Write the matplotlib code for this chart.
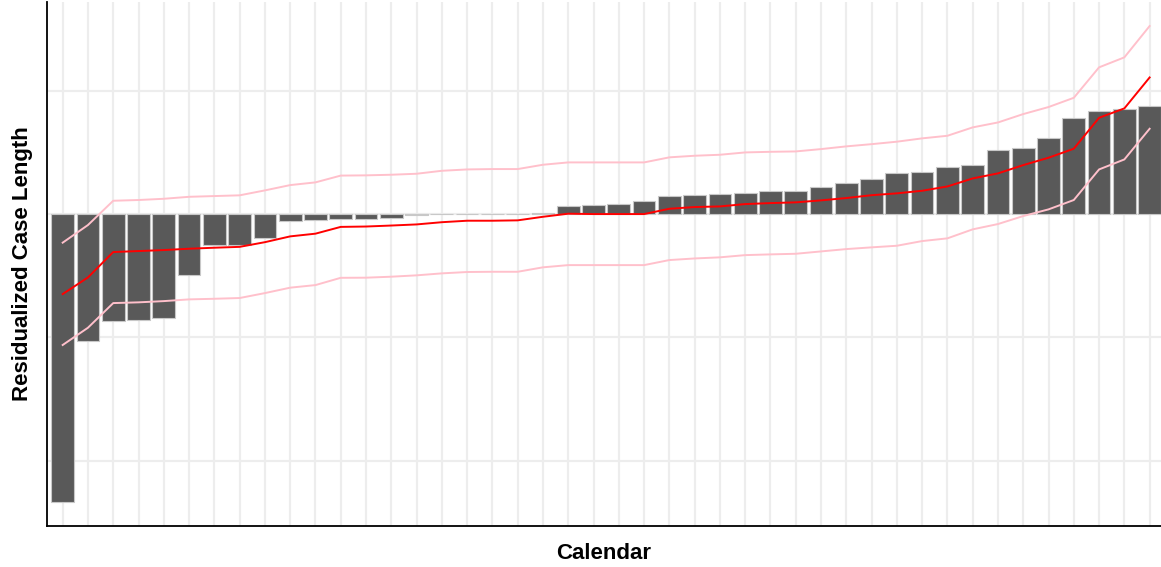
import numpy as np
import matplotlib
matplotlib.use("Agg")
import matplotlib.pyplot as plt

# ==========================================
# DATA
# ==========================================

# residualized case length per calendar, sorted ascending
residuals = [
    -2.338, -1.030, -0.865, -0.860, -0.846, -0.495, -0.251, -0.249, -0.197, -0.059,
    -0.051, -0.038, -0.038, -0.032, -0.008, -0.003, 0.000, 0.000, 0.000, 0.011,
    0.062, 0.070, 0.084, 0.105, 0.143, 0.154, 0.165, 0.170, 0.184, 0.184,
    0.222, 0.251, 0.287, 0.333, 0.341, 0.381, 0.397, 0.522, 0.538, 0.616,
    0.776, 0.833, 0.849, 0.873,
]

# expected value of each order statistic
expected = [
    -0.649, -0.514, -0.308, -0.300, -0.292, -0.281, -0.273, -0.266, -0.228, -0.181,
    -0.159, -0.104, -0.101, -0.093, -0.084, -0.066, -0.054, -0.054, -0.051, -0.022,
    0.003, 0.000, 0.000, 0.000, 0.043, 0.057, 0.062, 0.081, 0.089, 0.095,
    0.111, 0.130, 0.153, 0.168, 0.189, 0.224, 0.289, 0.330, 0.397, 0.457,
    0.530, 0.781, 0.857, 1.108,
]

# upper and lower bounds of the envelope
upper = [
    -0.232, -0.089, 0.108, 0.114, 0.124, 0.140, 0.146, 0.152, 0.192, 0.235,
    0.257, 0.312, 0.314, 0.319, 0.327, 0.351, 0.362, 0.365, 0.365, 0.400,
    0.419, 0.419, 0.419, 0.419, 0.460, 0.473, 0.481, 0.500, 0.505, 0.508,
    0.527, 0.549, 0.567, 0.587, 0.614, 0.635, 0.703, 0.743, 0.811, 0.868,
    0.943, 1.190, 1.271, 1.525,
]

lower = [
    -1.062, -0.922, -0.722, -0.716, -0.706, -0.692, -0.687, -0.681, -0.641, -0.597,
    -0.576, -0.517, -0.516, -0.508, -0.497, -0.481, -0.470, -0.468, -0.468, -0.432,
    -0.414, -0.414, -0.414, -0.414, -0.373, -0.360, -0.351, -0.333, -0.327, -0.322,
    -0.303, -0.284, -0.270, -0.257, -0.219, -0.197, -0.124, -0.081, -0.016, 0.038,
    0.114, 0.362, 0.443, 0.692,
]

y_grid = [-2, -1, 0, 1]

# ==========================================
# PLOT
# ==========================================

plt.rcParams["font.family"] = ["Liberation Sans", "DejaVu Sans"]

x = np.arange(len(residuals))

fig = plt.figure(figsize=(11.61, 5.67), dpi=100)
ax = fig.add_axes([47 / 1161, 41 / 567, 1 - 47 / 1161, 524 / 567])

# grid
for xi in x:
    ax.axvline(xi, color="#EDEDED", lw=1.6, zorder=0)
for yg in y_grid:
    ax.axhline(yg, color="#EDEDED", lw=1.6, zorder=0)

ax.bar(x, residuals, width=0.9, color="#595959", edgecolor="#C8C8C8",
       linewidth=0.8, zorder=2)

ax.plot(x, upper, color="pink", lw=1.4, zorder=3)
ax.plot(x, lower, color="pink", lw=1.4, zorder=3)
ax.plot(x, expected, color="red", lw=1.4, zorder=4)

ax.set_xlim(-0.62, 43.45)
ax.set_ylim(-2.53, 1.72)
ax.set_xticks([])
ax.set_yticks([])

for side in ["top", "right"]:
    ax.spines[side].set_visible(False)
for side in ["left", "bottom"]:
    ax.spines[side].set_color("black")
    ax.spines[side].set_linewidth(1.3)

ax.set_xlabel("Calendar", fontsize=16, fontweight="bold", labelpad=12)
ax.set_ylabel("Residualized Case Length", fontsize=16, fontweight="bold", labelpad=10)

fig.savefig("out.png", dpi=100, facecolor="white")
